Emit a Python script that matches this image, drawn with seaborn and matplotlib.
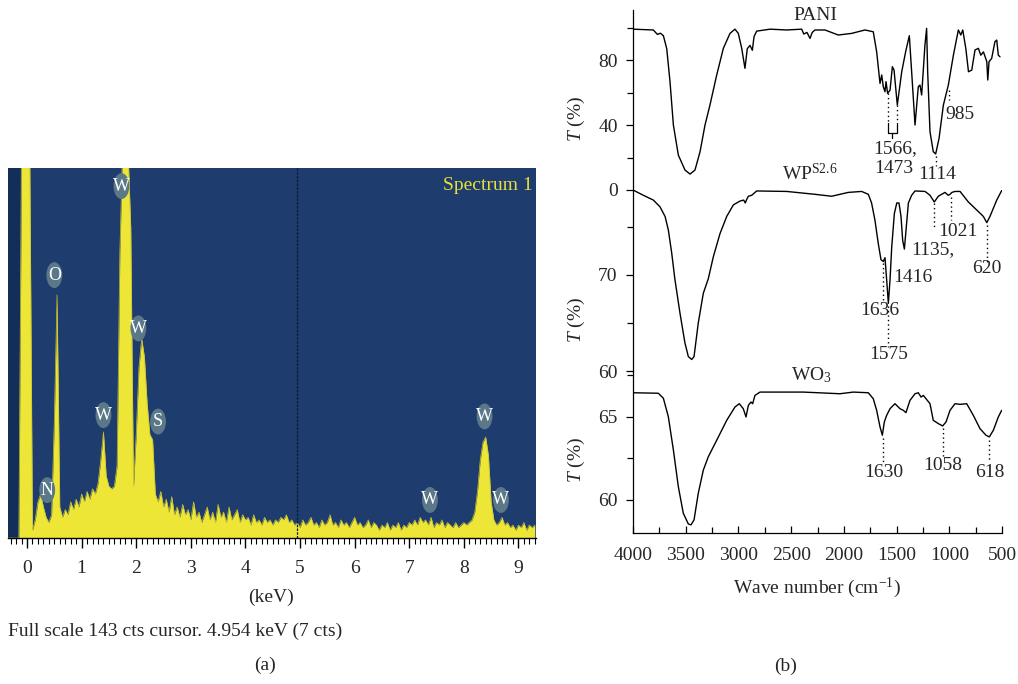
import numpy as np
import pandas as pd
import matplotlib
matplotlib.use("Agg")
import matplotlib.pyplot as plt
import seaborn as sns
from matplotlib.patches import Ellipse
from matplotlib.ticker import MultipleLocator, FixedLocator

# ---------------- (a) EDS spectrum data ----------------
eds_start_kev = -0.35
eds_step_kev = 0.05
eds_counts = (
    [0, 0, 0, 0, 0, 150, 150]
    + [150, 150, 3, 7, 14, 17, 12, 8, 6, 9, 45, 94, 12, 8, 11, 9, 14, 11, 15, 12]
    + [17, 14, 18, 15, 19, 17, 21, 30, 41, 24, 20, 19, 20, 28, 110, 150, 150, 150, 120, 20]
    + [40, 66, 77, 70, 52, 40, 38, 17, 14, 18, 12, 15, 10, 16, 9, 12, 8, 13, 9, 11]
    + [7, 14, 8, 10, 6, 9, 12, 7, 10, 6, 13, 8, 10, 6, 12, 7, 9, 11, 6, 9]
    + [7, 8, 5, 9, 6, 7, 5, 8, 6, 7, 5, 7, 6, 8, 7, 9, 6, 7, 5, 6]
    + [4, 7, 5, 6, 8, 5, 6, 4, 7, 5, 6, 9, 5, 6, 4, 7, 5, 6, 4, 6]
    + [8, 5, 6, 4, 5, 7, 4, 6, 5, 3, 5, 4, 6, 3, 5, 4, 6, 3, 5, 4]
    + [6, 5, 7, 5, 8, 6, 7, 5, 8, 4, 6, 5, 7, 4, 6, 5, 4, 6, 4, 5]
    + [6, 5, 6, 7, 10, 18, 30, 37, 39, 32, 14, 7, 5, 6, 8, 5, 6, 4, 5, 3]
    + [5, 4, 6, 3, 5, 4, 5]
)
eds_label_text = ["N", "O", "W", "W", "W", "S", "W", "W", "W"]
eds_label_kev = [0.37, 0.50, 1.40, 1.73, 2.04, 2.40, 7.38, 8.38, 8.68]
eds_label_cts = [18.5, 101.6, 47.5, 136.0, 81.0, 45.0, 14.7, 47.0, 14.7]
eds_ticks = [0, 1, 2, 3, 4, 5, 6, 7, 8, 9]
cursor_kev = 4.954

# ---------------- (b) FTIR spectra data ----------------
pani_wn = [4000, 3807, 3769, 3740, 3712, 3680, 3649, 3617, 3570, 3507, 3459, 3412, 3364, 3317,
           3270, 3206, 3143, 3080, 3033, 3001, 2969, 2938, 2916, 2890, 2868, 2852, 2827, 2700,
           2542, 2400, 2380, 2350, 2321, 2300, 2274, 2179, 2053, 1926, 1800, 1721, 1689, 1657,
           1641, 1626, 1610, 1600, 1585, 1562, 1540, 1524, 1493, 1451, 1414, 1379, 1357, 1325,
           1294, 1278, 1262, 1231, 1215, 1205, 1183, 1152, 1129, 1097, 1056, 1009, 961, 914,
           891, 872, 843, 818, 787, 756, 724, 701, 676, 644, 635, 623, 598, 567, 550, 535, 519]
pani_t = [99, 98.5, 95.8, 96.5, 95, 87, 66.7, 40, 21.5, 12.3, 9.8, 12.3, 23.6, 40,
          52.3, 70.8, 87.2, 96.4, 99, 96.4, 87.2, 74.9, 87, 89, 86, 94.4, 97.8, 99,
          98.5, 99, 96, 97, 93.3, 97, 98.5, 98.5, 95.4, 96.4, 98.5, 97.4, 85.1, 65.6,
          70.8, 63.6, 60.5, 66.7, 59.5, 61.5, 75.9, 73.8, 52.3, 72.8, 85.1, 95, 72.8, 40,
          63.6, 64.6, 58.5, 89.2, 99.5, 72.8, 35.9, 23.6, 22.2, 31.8, 52.3, 64.6, 83, 98.5,
          95.4, 98.5, 87, 72.8, 73.8, 86.2, 87.2, 83, 85, 79, 67.7, 79, 81, 91.3, 92.3, 83, 82]

wp_wn = [4000, 3902, 3807, 3744, 3696, 3665, 3633, 3602, 3554, 3507, 3475, 3443, 3421, 3381,
         3333, 3286, 3238, 3175, 3111, 3048, 2985, 2950, 2935, 2920, 2906, 2874, 2827, 2542,
         2274, 2116, 1958, 1831, 1768, 1737, 1705, 1674, 1648, 1626, 1610, 1594, 1578, 1562,
         1546, 1521, 1498, 1477, 1458, 1442, 1426, 1410, 1388, 1357, 1325, 1230, 1183, 1142,
         1104, 1041, 1010, 993, 975, 946, 898, 819, 724, 677, 644, 614, 550, 500]
wp_t = [78.85, 78.3, 77.8, 77.1, 76.1, 74.7, 72.3, 69.5, 66.0, 62.9, 61.5, 61.2, 61.5, 65.0,
        68.1, 69.6, 71.9, 74.3, 76.1, 77.3, 77.7, 77.8, 77.5, 77.9, 78.2, 78.3, 78.75, 78.7,
        78.4, 78.2, 78.6, 78.7, 78.4, 77.5, 75.7, 73.3, 71.6, 71.4, 71.8, 69.5, 67.05, 69.5,
        72.9, 76.4, 77.5, 77.5, 76.1, 73.6, 72.7, 74.7, 77.5, 78.3, 78.75, 78.7, 78.3, 77.6,
        78.2, 78.6, 78.3, 78.4, 78.6, 78.7, 78.7, 77.6, 76.6, 76.1, 75.45, 76.1, 77.8, 78.85]

wo3_wn = [4000, 3760, 3712, 3665, 3617, 3570, 3523, 3475, 3450, 3421, 3381, 3333, 3286, 3206,
          3111, 3033, 2992, 2954, 2928, 2906, 2881, 2865, 2843, 2795, 2385, 2037, 1910, 1768,
          1721, 1689, 1657, 1635, 1616, 1594, 1562, 1515, 1468, 1436, 1411, 1373, 1325, 1294,
          1268, 1246, 1183, 1152, 1104, 1063, 1031, 993, 946, 898, 835, 772, 709, 652, 620,
          582, 535, 503]
wo3_t = [66.46, 66.43, 66.13, 65.02, 63.01, 60.8, 59.2, 58.55, 58.5, 58.8, 60.4, 61.8, 62.6, 63.6,
         64.8, 65.6, 65.8, 65.5, 65.0, 65.7, 65.9, 65.8, 66.3, 66.5, 66.5, 66.4, 66.5, 66.46,
         66.1, 65.4, 64.4, 63.9, 64.7, 65.1, 65.5, 65.8, 65.5, 65.4, 65.26, 66.0, 66.4, 66.46,
         66.2, 66.3, 65.8, 64.8, 64.6, 64.46, 64.7, 65.4, 65.8, 65.76, 65.8, 65.1, 64.3, 63.9, 63.8,
         64.2, 65.0, 65.4]

wn_ticks = [4000, 3500, 3000, 2500, 2000, 1500, 1000, 500]

# ---------------- styling ----------------
sns.set_theme(style="white")
plt.rcParams["font.family"] = ["Liberation Serif", "DejaVu Serif"]
plt.rcParams["mathtext.fontset"] = "custom"
plt.rcParams["mathtext.rm"] = "Liberation Serif"
plt.rcParams["mathtext.it"] = "Liberation Serif:italic"
plt.rcParams["mathtext.bf"] = "Liberation Serif:bold"
plt.rcParams["axes.unicode_minus"] = True

FS = 14
W, H = 1018, 684
fig = plt.figure(figsize=(W / 100, H / 100), dpi=100)
fig.patch.set_facecolor("white")


def fx(px):
    return px / W


def fy(py):
    return 1 - py / H


def ftext(px, py, s, **kw):
    kw.setdefault("fontsize", FS)
    kw.setdefault("ha", "center")
    kw.setdefault("va", "center")
    fig.text(fx(px), fy(py), s, **kw)


# ================= (a) EDS =================
axa = fig.add_axes([fx(8), fy(538), (536 - 8) / W, (538 - 168) / H])
axa.set_facecolor("#1e3c6e")
kev = np.round(eds_start_kev + eds_step_kev * np.arange(len(eds_counts)), 3)
df_eds = pd.DataFrame({"keV": kev, "cts": eds_counts})
axa.axvspan(-0.35, -0.12, color="#142e5a", lw=0, zorder=0.5)
axa.fill_between(df_eds["keV"], 0, df_eds["cts"], color="#ede636", lw=0, zorder=2)
sns.lineplot(data=df_eds, x="keV", y="cts", ax=axa, color="#c8c230", lw=0.5,
             estimator=None, zorder=2.5)
axa.axvline(cursor_kev, color="#0c1a30", lw=0.9, ls=(0, (2, 1)), zorder=3)
for t, e, c in zip(eds_label_text, eds_label_kev, eds_label_cts):
    axa.add_patch(Ellipse((e, c), 0.29, 10, facecolor="#5b7889", edgecolor="none", zorder=4))
    axa.text(e, c, t, color="white", ha="center", va="center", fontsize=13, zorder=5)
axa.text(0.993, 0.975, "Spectrum 1", transform=axa.transAxes, color="#e6df3c",
         ha="right", va="top", fontsize=FS, zorder=6)
axa.set_xlim(-0.348, 9.322)
axa.set_ylim(0, 143)
axa.set_xticks(eds_ticks)
axa.xaxis.set_minor_locator(MultipleLocator(0.1))
axa.set_yticks([])
axa.set_xlabel("")
axa.set_ylabel("")
for s in ["left", "top", "right"]:
    axa.spines[s].set_visible(False)
axa.spines["bottom"].set_color("black")
axa.spines["bottom"].set_linewidth(1.0)
axa.tick_params(axis="x", which="major", direction="out", length=7, width=1,
                color="black", labelsize=FS, pad=9, bottom=True)
axa.tick_params(axis="x", which="minor", direction="out", length=4, width=0.8,
                color="black", bottom=True)
axa.grid(False)

ftext(271, 597, "(keV)")
ftext(8, 631, "Full scale 143 cts cursor. 4.954 keV (7 cts)", ha="left")
ftext(265, 665, "(a)")

# ================= (b) FTIR =================
left_px, right_px = 633, 1002
ax_w = (right_px - left_px) / W
ax_top = fig.add_axes([fx(left_px), fy(190), ax_w, 180 / H])
ax_mid = fig.add_axes([fx(left_px), fy(371), ax_w, 181 / H])
ax_bot = fig.add_axes([fx(left_px), fy(533), ax_w, 162 / H])

panels = [
    (ax_top, pani_wn, pani_t, (0, 110.8), [0, 40, 80], [20, 60, 100]),
    (ax_mid, wp_wn, wp_t, (60, 78.85), [60, 70], [65, 75]),
    (ax_bot, wo3_wn, wo3_t, (58.01, 67.77), [60, 65], [62.5, 67.5]),
]
for ax, wn, tv, ylim, maj, mnr in panels:
    ax.patch.set_alpha(0)
    d = pd.DataFrame({"wn": wn, "T": tv})
    sns.lineplot(data=d, x="wn", y="T", ax=ax, color="black", lw=1.0,
                 estimator=None, sort=False)
    ax.set_xlim(4000, 500)
    ax.set_ylim(*ylim)
    ax.set_yticks(maj)
    ax.yaxis.set_minor_locator(FixedLocator(mnr))
    ax.set_yticklabels([str(m) for m in maj])
    ax.set_xlabel("")
    ax.set_ylabel("")
    ax.grid(False)
    for s in ["top", "right"]:
        ax.spines[s].set_visible(False)
    ax.spines["left"].set_color("black")
    ax.spines["left"].set_linewidth(0.9)
    ax.tick_params(axis="y", which="major", direction="out", length=5, width=0.9,
                   color="black", labelsize=FS, pad=6, left=True)
    ax.tick_params(axis="y", which="minor", direction="out", length=4, width=0.9,
                   color="black", left=True)

for ax in (ax_top, ax_mid):
    ax.spines["bottom"].set_visible(False)
    ax.set_xticks([])
    ax.tick_params(axis="x", which="both", bottom=False, labelbottom=False)

ax_bot.set_xticks(wn_ticks)
ax_bot.set_xticklabels([str(w) for w in wn_ticks])
ax_bot.xaxis.set_minor_locator(MultipleLocator(250))
ax_bot.spines["bottom"].set_color("black")
ax_bot.spines["bottom"].set_linewidth(0.9)
ax_bot.tick_params(axis="x", which="major", direction="in", length=5, width=0.9,
                   color="black", labelsize=FS, pad=10, bottom=True)
ax_bot.tick_params(axis="x", which="minor", direction="in", length=4, width=0.9,
                   color="black", bottom=True)
ax_bot.spines["bottom"].set_bounds(4000, 500)

dot = dict(color="black", lw=1.0, ls=(0, (1, 2.2)))

# PANI annotations
ax_top.plot([1585, 1585], [59.5, 41.2], **dot)
ax_top.plot([1500, 1500], [52.3, 41.2], **dot)
ax_top.plot([1585, 1585, 1500, 1500], [41.2, 35.1, 35.1, 41.2], color="black", lw=0.9)
ax_top.plot([1542, 1542], [35.1, 32.0], color="black", lw=0.9)
ax_top.text(1518, 25.6, "1566,", ha="center", va="center", fontsize=FS)
ax_top.text(1528, 13.4, "1473", ha="center", va="center", fontsize=FS)
ax_top.plot([1129, 1129], [21.0, 14.8], **dot)
ax_top.text(1117, 9.8, "1114", ha="center", va="center", fontsize=FS)
ax_top.plot([1003, 1003], [61.5, 55.4], **dot)
ax_top.text(898, 46.2, "985", ha="center", va="center", fontsize=FS)

# WP annotations
ax_mid.plot([1632, 1632], [71.25, 67.1], **dot)
ax_mid.text(1657, 66.35, "1636", ha="center", va="center", fontsize=FS)
ax_mid.plot([1578, 1578], [66.8, 62.5], **dot)
ax_mid.text(1578, 61.67, "1575", ha="center", va="center", fontsize=FS)
ax_mid.text(1341, 69.7, "1416", ha="center", va="center", fontsize=FS)
ax_mid.plot([1142, 1142], [77.5, 75.0], **dot)
ax_mid.text(1152, 72.6, "1135,", ha="center", va="center", fontsize=FS)
ax_mid.plot([987, 987], [78.1, 75.7], **dot)
ax_mid.text(915, 74.5, "1021", ha="center", va="center", fontsize=FS)
ax_mid.plot([645, 645], [75.2, 71.35], **dot)
ax_mid.text(645, 70.7, "620", ha="center", va="center", fontsize=FS)

# WO3 annotations
ax_bot.plot([1632, 1632], [63.73, 62.29], **dot)
ax_bot.text(1626, 61.63, "1630", ha="center", va="center", fontsize=FS)
ax_bot.plot([1063, 1063], [64.34, 62.59], **dot)
ax_bot.text(1063, 62.05, "1058", ha="center", va="center", fontsize=FS)
ax_bot.plot([620, 620], [63.6, 62.29], **dot)
ax_bot.text(620, 61.63, "618", ha="center", va="center", fontsize=FS)

# sample names and axis labels
ftext(815, 15, "PANI")
ftext(810, 173, r"WP$^{\mathrm{S2.6}}$")
ftext(811, 375, r"WO$_3$")
for py in (119, 320, 460):
    ftext(576, py, r"$T$ (%)", rotation=90)
ftext(817, 588, r"Wave number (cm$^{-1}$)")
ftext(786, 666, "(b)")

fig.savefig("out.png", dpi=100, facecolor="white")
